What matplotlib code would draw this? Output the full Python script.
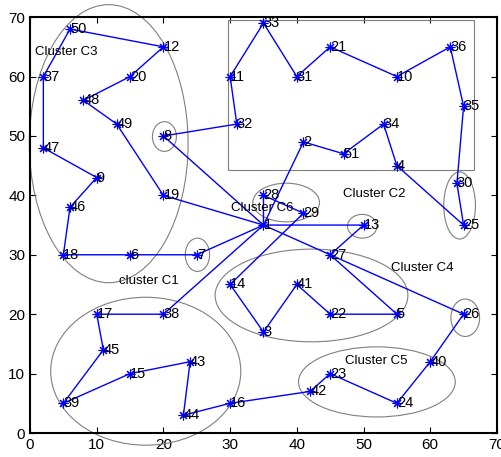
import matplotlib

matplotlib.use("Agg")
import matplotlib.pyplot as plt
from matplotlib.patches import Ellipse, Rectangle

plt.rcParams["font.family"] = ["Liberation Sans", "DejaVu Sans"]

BLUE, GREY = "#0000FF", "#7F7F7F"

# node positions (node 1 is the sink)
node_id = [1, 2, 3, 4, 5, 6, 7, 8, 9, 10, 11, 12, 13, 14, 15, 16, 17, 18, 19, 20,
           21, 22, 23, 24, 25, 26, 27, 28, 29, 30, 31, 32, 33, 34, 35, 36, 37, 38,
           39, 40, 41, 42, 43, 44, 45, 46, 47, 48, 49, 50, 51]
node_x = [35, 41, 35, 55, 55, 15, 25, 20, 10, 55, 30, 20, 50, 30, 15, 30, 10, 5, 20, 15,
          45, 45, 45, 55, 65, 65, 45, 35, 41, 64, 40, 31, 35, 53, 65, 63, 2, 20,
          5, 60, 40, 42, 24, 23, 11, 6, 2, 8, 13, 6, 47]
node_y = [35, 49, 17, 45, 20, 30, 30, 50, 43, 60, 60, 65, 35, 25, 10, 5, 20, 30, 40, 60,
          65, 20, 10, 5, 35, 20, 30, 40, 37, 42, 60, 52, 69, 52, 55, 65, 60, 20,
          5, 12, 25, 7, 12, 3, 14, 38, 48, 56, 52, 68, 47]

# routes, as sequences of node ids
route_a = [1, 8, 32, 11, 33, 31, 21, 10, 36, 35, 30, 25, 4, 34, 51, 2, 1]
route_b = [1, 19, 49, 48, 20, 12, 50, 37, 47, 9, 46, 18, 6, 7, 1]
route_c = [1, 38, 17, 45, 39, 15, 43, 44, 16, 42, 23, 24, 40, 26, 27, 1]
route_d = [1, 28, 29, 14, 3, 41, 22, 5, 27, 13, 1]

cluster_names = ["Cluster C3", "Cluster C2", "Cluster C6", "Cluster C4",
                 "Cluster C5", "cluster C1"]
cluster_label_x = [0.8, 46.9, 30.2, 54.1, 47.2, 13.4]
cluster_label_y = [64.2, 40.2, 37.8, 27.8, 12.2, 25.6]

pos = {n: (x, y) for n, x, y in zip(node_id, node_x, node_y)}

fig = plt.figure(figsize=(5.01, 4.57), dpi=100)
ax = fig.add_axes([0.0599, 0.0525, 0.932, 0.910])

for route in (route_a, route_b, route_c, route_d):
    ax.plot([pos[n][0] for n in route], [pos[n][1] for n in route],
            "-", color=BLUE, lw=1.0, zorder=3)
ax.plot(node_x, node_y, marker=(8, 2, 0), color=BLUE, ms=7, mew=0.8, ls="none", zorder=4)
for n, x, y in zip(node_id, node_x, node_y):
    ax.text(x, y, str(n), ha="left", va="center", fontsize=10.5, color="black", zorder=5)

# cluster outlines (center, width, height)
shapes = [((11.8, 48.7), 23.8, 46.8), ((20.15, 49.9), 3.6, 5.0), ((25.1, 30.0), 3.65, 5.6),
          ((38.4, 38.8), 10.0, 6.5), ((49.8, 34.8), 4.4, 4.0), ((64.4, 38.3), 4.75, 11.3),
          ((42.2, 23.15), 28.9, 15.6), ((65.25, 19.4), 4.3, 6.3), ((52.0, 8.6), 23.5, 11.8),
          ((17.35, 10.4), 28.5, 24.9)]
for c, w, h in shapes:
    ax.add_patch(Ellipse(c, w, h, fill=False, ec=GREY, lw=0.8, clip_on=False, zorder=2))
ax.add_patch(Rectangle((29.65, 44.3), 36.85, 25.3, fill=False, ec=GREY, lw=0.8, zorder=2))

for name, x, y in zip(cluster_names, cluster_label_x, cluster_label_y):
    ax.text(x, y, name, ha="left", va="center", fontsize=9.5, color="black", zorder=5)

ax.set_xlim(0, 70)
ax.set_ylim(0, 70)
ax.set_xticks(range(0, 71, 10))
ax.set_yticks(range(0, 71, 10))
ax.tick_params(direction="in", top=True, right=True, labelsize=11, length=4, width=0.8)
for s in ax.spines.values():
    s.set_linewidth(1.5)

fig.savefig("out.png", dpi=100, facecolor="white")
